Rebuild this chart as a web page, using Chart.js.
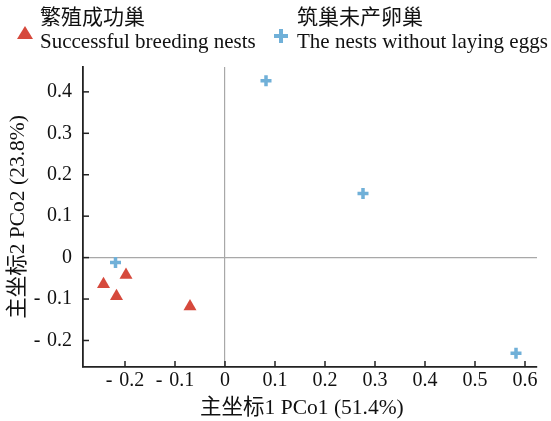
<!DOCTYPE html>
<html>
<head>
<meta charset="utf-8">
<script src="https://cdn.jsdelivr.net/npm/chart.js@4/dist/chart.umd.min.js"></script>
<style>
  body { margin: 0; background: #fff; }
</style>
</head>
<body>
<canvas id="pcoa" width="551" height="421"></canvas>
<script>
// Dati (PCo1, PCo2)
const successX = [-0.243, -0.198, -0.217, -0.070];
const successY = [-0.064, -0.042, -0.093, -0.118];
const noEggsX = [0.082, 0.276, 0.582, -0.219];
const noEggsY = [0.427, 0.155, -0.231, -0.012];

const seriesNames = [
  ['繁殖成功巢', 'Successful breeding nests'],
  ['筑巢未产卵巢', 'The nests without laying eggs']
];
const xTicks = [-0.2, -0.1, 0, 0.1, 0.2, 0.3, 0.4, 0.5, 0.6];
const yTicks = [-0.2, -0.1, 0, 0.1, 0.2, 0.3, 0.4];
const xTitle = '主坐标1 PCo1 (51.4%)';
const yTitle = '主坐标2 PCo2 (23.8%)';

const RED = '#d6493c';
const BLUE = '#70b0d8';
const FONT = '"Liberation Serif", "Noto Sans CJK SC", serif';

function toPoints(xs, ys) {
  return xs.map((x, i) => ({ x: x, y: ys[i] }));
}

function fmt(v) {
  if (v === 0) return '0';
  return v < 0 ? '-\u2004' + Math.abs(v).toFixed(1) : v.toFixed(1);
}

// tacche interne sugli assi
const innerTicks = {
  id: 'innerTicks',
  afterDraw(chart) {
    const c = chart.ctx;
    const a = chart.chartArea;
    c.save();
    c.strokeStyle = '#222';
    c.lineWidth = 1.5;
    chart.scales.x.ticks.forEach(t => {
      const px = chart.scales.x.getPixelForValue(t.value);
      c.beginPath(); c.moveTo(px, a.bottom); c.lineTo(px, a.bottom - 6); c.stroke();
    });
    chart.scales.y.ticks.forEach(t => {
      const py = chart.scales.y.getPixelForValue(t.value);
      c.beginPath(); c.moveTo(a.left, py); c.lineTo(a.left + 6, py); c.stroke();
    });
    c.restore();
  }
};

// legenda su due righe
const twoLineLegend = {
  id: 'twoLineLegend',
  afterDraw(chart) {
    const c = chart.ctx;
    c.save();
    c.textBaseline = 'middle';
    const items = [
      { mx: 25, my: 33, tx: 40 },
      { mx: 281, my: 36, tx: 297 }
    ];
    items.forEach((it, i) => {
      const ds = chart.data.datasets[i];
      c.fillStyle = '#111';
      c.font = '21px ' + FONT;
      c.fillText(seriesNames[i][0], it.tx, 18);
      c.fillText(seriesNames[i][1], it.tx, 42);
      c.fillStyle = ds.backgroundColor;
      c.strokeStyle = ds.borderColor;
      c.beginPath();
      if (ds.pointStyle === 'triangle') {
        c.moveTo(it.mx, it.my - 7);
        c.lineTo(it.mx + 8, it.my + 6);
        c.lineTo(it.mx - 8, it.my + 6);
        c.closePath();
        c.fill();
      } else {
        const r = 7;
        c.lineWidth = 4;
        c.moveTo(it.mx - r, it.my); c.lineTo(it.mx + r, it.my);
        c.moveTo(it.mx, it.my - r); c.lineTo(it.mx, it.my + r);
        c.stroke();
      }
    });
    c.restore();
  }
};

const ctx = document.getElementById('pcoa').getContext('2d');

const chart = new Chart(ctx, {
  type: 'scatter',
  data: {
    datasets: [{
      label: seriesNames[0].join(' '),
      data: toPoints(successX, successY),
      pointStyle: 'triangle',
      pointRadius: 7.5,
      pointHoverRadius: 7.5,
      backgroundColor: RED,
      borderColor: RED,
      borderWidth: 0
    }, {
      label: seriesNames[1].join(' '),
      data: toPoints(noEggsX, noEggsY),
      pointStyle: 'cross',
      pointRadius: 5.5,
      pointHoverRadius: 5.5,
      backgroundColor: BLUE,
      borderColor: BLUE,
      borderWidth: 3.5
    }]
  },
  options: {
    responsive: false,
    animation: false,
    layout: { padding: { left: 0, top: 67, right: 14, bottom: 0 } },
    plugins: {
      legend: { display: false },
      tooltip: { enabled: false }
    },
    scales: {
      x: {
        type: 'linear',
        min: -0.284,
        max: 0.624,
        afterBuildTicks: s => { s.ticks = xTicks.map(v => ({ value: v })); },
        afterFit: s => { s.height = 54; },
        grid: {
          drawTicks: false,
          color: c => c.tick && c.tick.value === 0 ? '#a8a8a8' : 'rgba(0,0,0,0)',
          lineWidth: 1.2
        },
        border: { color: '#222', width: 1.8 },
        ticks: {
          padding: 2,
          color: '#111',
          font: { family: FONT, size: 20 },
          callback: v => fmt(v)
        },
        title: {
          display: true,
          // spazio finale: il titolo nel grafico originale è un po' a sinistra del centro
          text: xTitle + '\u2002\u2005',
          color: '#111',
          font: { family: FONT, size: 21.5 },
          padding: { top: 0, bottom: 0 }
        }
      },
      y: {
        type: 'linear',
        min: -0.264,
        max: 0.46,
        afterBuildTicks: s => { s.ticks = yTicks.map(v => ({ value: v })); },
        afterFit: s => { s.width = 83; },
        grid: {
          drawTicks: false,
          color: c => c.tick && c.tick.value === 0 ? '#a8a8a8' : 'rgba(0,0,0,0)',
          lineWidth: 1.2
        },
        border: { color: '#222', width: 1.8 },
        ticks: {
          padding: 11,
          color: '#111',
          font: { family: FONT, size: 20 },
          callback: v => fmt(v)
        },
        title: {
          display: true,
          text: yTitle,
          color: '#111',
          font: { family: FONT, size: 21.5 },
          padding: { top: 5, bottom: 0 }
        }
      }
    }
  },
  plugins: [innerTicks, twoLineLegend]
});
</script>
</body>
</html>
